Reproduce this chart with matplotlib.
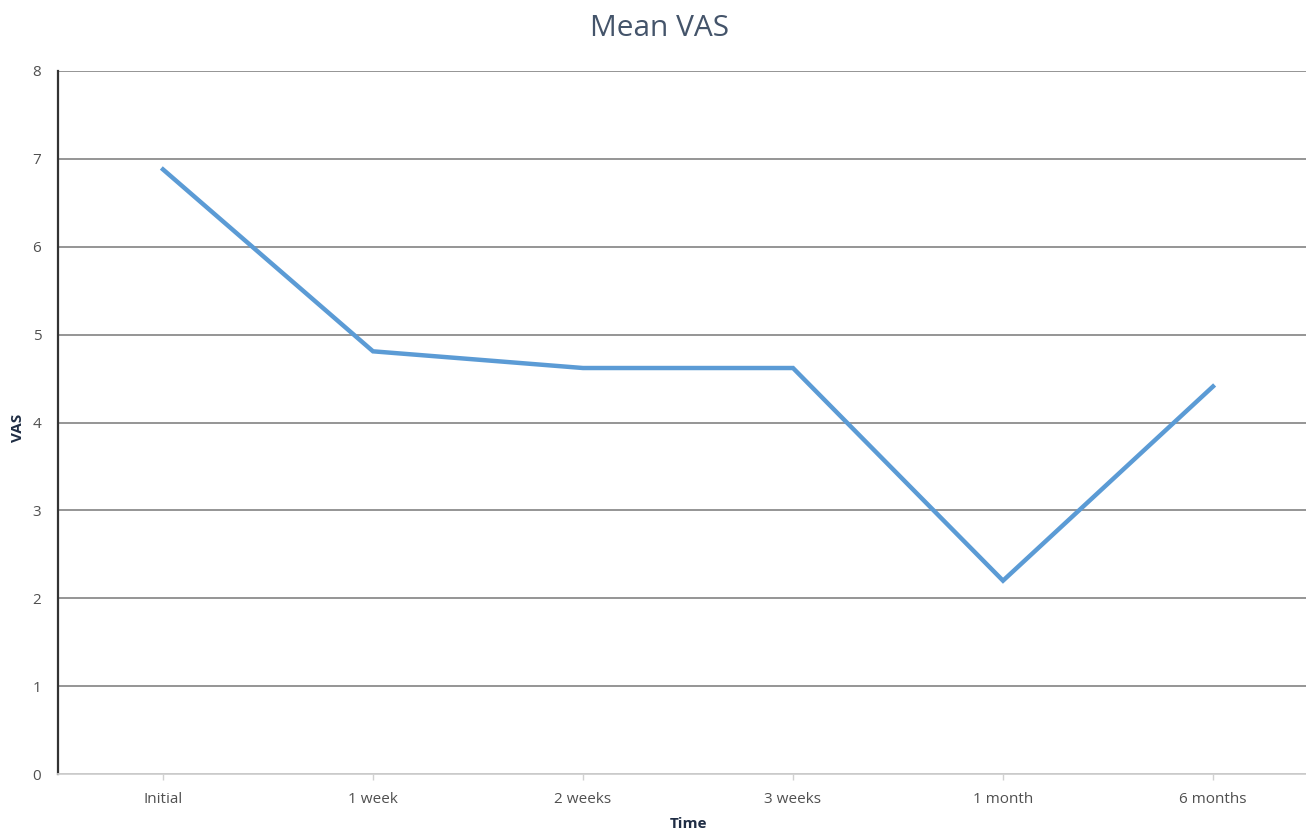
import matplotlib
matplotlib.use("Agg")
import matplotlib.pyplot as plt

categories = ["Initial", "1 week", "2 weeks", "3 weeks", "1 month", "6 months"]
vas_values = [6.88, 4.81, 4.62, 4.62, 2.20, 4.41]

plt.rcParams['font.family'] = ['Open Sans', 'DejaVu Sans']

fig = plt.figure(figsize=(13.06, 8.32), dpi=100)
ax = fig.add_axes([58/1306, 58/832, 1260/1306, 703/832])

x = list(range(len(categories)))
ax.plot(x, vas_values, color="#5B9BD5", linewidth=3.2, solid_joinstyle="miter", zorder=3)

ax.set_xlim(-0.5, len(categories) - 0.5)
ax.set_ylim(0, 8)
ax.set_yticks(range(0, 9))
ax.set_xticks(x)
ax.set_xticklabels(categories)

ax.grid(axis="y", color="#8c8c8c", linewidth=1.3)
ax.set_axisbelow(True)

for s in ["top", "right"]:
    ax.spines[s].set_visible(False)
ax.spines["left"].set_color("#333333")
ax.spines["left"].set_linewidth(1.6)
ax.spines["bottom"].set_color("#d0d0d0")
ax.spines["bottom"].set_linewidth(1.3)

ax.tick_params(axis="y", length=0, pad=12, labelsize=11, labelcolor="#505050")
ax.tick_params(axis="x", length=4, width=1, color="#d0d0d0", pad=9, labelsize=11, labelcolor="#505050")

fig.text(18/1306, 1 - 428/832, "VAS", rotation=90, ha="center", va="center",
         fontsize=11, fontweight="bold", color="#1f2d44")
fig.text(688/1306, 1 - 824/832, "Time", ha="center", va="center",
         fontsize=11, fontweight="bold", color="#1f2d44")
fig.text(660/1306, 1 - 29/832, "Mean VAS", ha="center", va="center", fontsize=21.5, color="#44546A")

fig.savefig("out.png", dpi=100)
